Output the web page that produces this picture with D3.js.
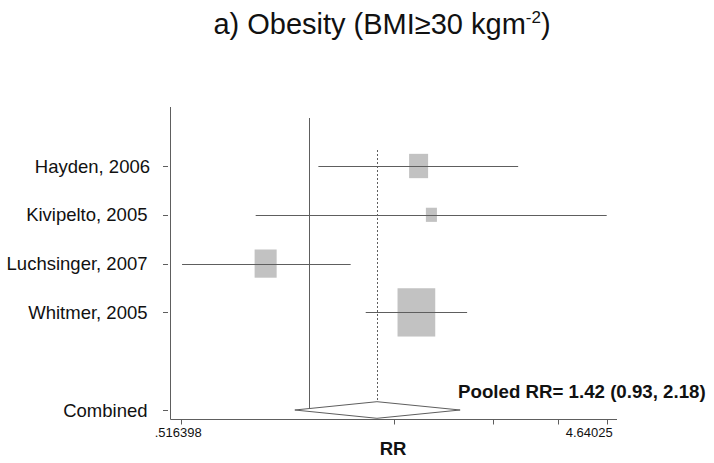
<!DOCTYPE html>
<html>
<head>
<meta charset="utf-8">
<script src="https://cdn.jsdelivr.net/npm/d3@7"></script>
<style>
  html, body { margin: 0; padding: 0; background: #fff; }
  svg { display: block; font-family: Arial, "Liberation Sans", Helvetica, sans-serif; }
</style>
</head>
<body>
<svg id="chart" width="714" height="463"></svg>
<script>
// ---- data ----
const studies = ["Hayden, 2006", "Kivipelto, 2005", "Luchsinger, 2007", "Whitmer, 2005"];
const rr = [1.76, 1.88, 0.80, 1.74];
const lower = [1.05, 0.76, 0.52, 1.34];
const upper = [2.94, 4.64, 1.24, 2.26];
const weights = [15.1, 5.1, 20.3, 59.5];
const pooledLabel = "Combined";
const pooledValues = [1.42, 0.93, 2.18]; // RR, lower, upper
const xTicks = [0.516398, 1.547361, 2.578324, 3.609287, 4.64025];
const xTickLabels = [".516398", "", "", "", "4.64025"];
const nullValue = 1;

// ---- layout ----
const svg = d3.select("#chart");
const x = d3.scaleLog().domain([0.516398, 4.64025]).range([180.7, 606.7]);
const y = d3.scaleLinear().domain([0, 5]).range([166, 410]);
const rowIndex = studies.map((d, i) => i).concat([5]);
const axisY = 419.5, axisLeft = 170.5, axisRight = 617, axisTop = 107;
const lineCol = "#5e5e5e";

// title
const title = svg.append("text").attr("x", 382).attr("y", 34)
  .attr("text-anchor", "middle").attr("font-size", 29).attr("fill", "#111");
title.append("tspan").text("a) Obesity (BMI\u226530 kgm");
title.append("tspan").attr("font-size", 17).attr("dy", -11).text("-2");
title.append("tspan").attr("dy", 11).text(")");

// axes lines
svg.append("line").attr("x1", axisLeft).attr("x2", axisLeft).attr("y1", axisTop).attr("y2", axisY)
  .attr("stroke", lineCol).attr("stroke-width", 1);
svg.append("line").attr("x1", axisLeft).attr("x2", axisRight).attr("y1", axisY).attr("y2", axisY)
  .attr("stroke", lineCol).attr("stroke-width", 1);

// x ticks
const xt = svg.append("g");
xTicks.forEach((t, i) => {
  const px = Math.round(x(t)) + 0.5;
  xt.append("line").attr("x1", px).attr("x2", px).attr("y1", axisY).attr("y2", axisY + 5)
    .attr("stroke", lineCol);
});
xt.append("text").attr("x", x(xTicks[0]) - 2.5).attr("y", 437).attr("text-anchor", "middle")
  .attr("font-size", 13).attr("fill", "#111").text(xTickLabels[0]);
xt.append("text").attr("x", x(xTicks[4]) + 6).attr("y", 437).attr("text-anchor", "end")
  .attr("font-size", 13).attr("fill", "#111").text(xTickLabels[4]);

// x title
svg.append("text").attr("x", 393).attr("y", 455).attr("text-anchor", "middle")
  .attr("font-size", 18.5).attr("font-weight", "bold").attr("fill", "#111").text("RR");

// y ticks & labels
const labels = studies.concat([pooledLabel]);
labels.forEach((lab, i) => {
  const py = Math.round(y(rowIndex[i])) + 0.5;
  svg.append("line").attr("x1", 163).attr("x2", 168).attr("y1", py).attr("y2", py).attr("stroke", lineCol);
  svg.append("text").attr("x", i === 0 ? 150 : 147.5).attr("y", y(rowIndex[i]) + 6.5)
    .attr("text-anchor", "end").attr("font-size", 18.5).attr("fill", "#111").text(lab);
});

// null line
const nx = Math.round(x(nullValue)) + 0.5;
svg.append("line").attr("x1", nx).attr("x2", nx).attr("y1", 118).attr("y2", y(5))
  .attr("stroke", lineCol);

// pooled dashed line
const px0 = Math.round(x(pooledValues[0])) + 0.5;
svg.append("line").attr("x1", px0).attr("x2", px0).attr("y1", 150).attr("y2", y(5) - 8.3)
  .attr("stroke", lineCol).attr("stroke-dasharray", "2,2");

// boxes
const boxScale = 4.89, aspect = 1.28;
studies.forEach((s, i) => {
  const w = Math.sqrt(weights[i]) * boxScale, h = w * aspect;
  svg.append("rect").attr("x", x(rr[i]) - w / 2).attr("y", y(i) - h / 2)
    .attr("width", w).attr("height", h).attr("fill", "#c2c2c2");
});

// CI lines
studies.forEach((s, i) => {
  const py = Math.round(y(i)) + 0.5;
  svg.append("line").attr("x1", x(lower[i])).attr("x2", x(upper[i])).attr("y1", py).attr("y2", py)
    .attr("stroke", lineCol).attr("stroke-width", 1);
});

// diamond
const dy = y(5);
svg.append("path")
  .attr("d", `M${x(pooledValues[1])},${dy} L${x(pooledValues[0])},${dy - 8.3} L${x(pooledValues[2])},${dy} L${x(pooledValues[0])},${dy + 8.3} Z`)
  .attr("fill", "#fff").attr("stroke", lineCol).attr("stroke-width", 1);

// pooled label
svg.append("text").attr("x", 458).attr("y", 398).attr("font-size", 18.7).attr("font-weight", "bold")
  .attr("fill", "#111")
  .text(`Pooled RR= ${pooledValues[0].toFixed(2)} (${pooledValues[1].toFixed(2)}, ${pooledValues[2].toFixed(2)})`);
</script>
</body>
</html>
